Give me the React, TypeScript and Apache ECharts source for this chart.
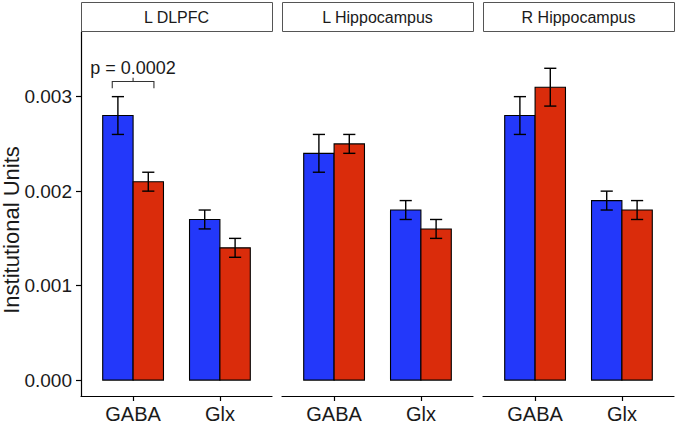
import React, { useEffect, useRef } from "react";
import * as echarts from "echarts";

const facets = ["L DLPFC", "L Hippocampus", "R Hippocampus"];
const categories = ["GABA", "Glx"];
const yTicks = [0, 0.001, 0.002, 0.003];
const yTitle = "Institutional Units";

// per facet: [GABA, Glx]
const blueMeans = [
  [0.0028, 0.0017],
  [0.0024, 0.0018],
  [0.0028, 0.0019],
];
const blueErr = [
  [0.0002, 0.0001],
  [0.0002, 0.0001],
  [0.0002, 0.0001],
];
const redMeans = [
  [0.0021, 0.0014],
  [0.0025, 0.0016],
  [0.0031, 0.0018],
];
const redErr = [
  [0.0001, 0.0001],
  [0.0001, 0.0001],
  [0.0002, 0.0001],
];

const pLabel = "p = 0.0002";
const bracketX = [0.76, 1.24];
const bracketY = [0.00309, 0.00316, 0.0032];
const pLabelY = 0.0033;

const BLUE = "#2338FA";
const RED = "#DA2C0B";
const FONT = "Liberation Sans, Arial, Helvetica, sans-serif";
const BAR_W = 0.35;
const CAP_HALF = 0.07;

const PANEL_LEFT = 81;
const PANEL_W = 191;
const PANEL_GAP = 10;
const PANEL_TOP = 32;
const PANEL_H = 366;

function barRender(color: string, side: number) {
  return (params: any, api: any) => {
    const c = api.value(0);
    const m = api.value(1);
    const e = api.value(2);
    const x0 = side < 0 ? c - BAR_W : c;
    const x1 = x0 + BAR_W;
    const xm = (x0 + x1) / 2;
    const pBase = api.coord([x0, 0]);
    const pTop = api.coord([x1, m]);
    const pHi = api.coord([xm, m + e]);
    const pLo = api.coord([xm, m - e]);
    const capL = api.coord([xm - CAP_HALF, m])[0];
    const capR = api.coord([xm + CAP_HALF, m])[0];
    const ls = { stroke: "#000", lineWidth: 1.4 };
    return {
      type: "group",
      children: [
        {
          type: "rect",
          shape: {
            x: pBase[0],
            y: pTop[1],
            width: pTop[0] - pBase[0],
            height: pBase[1] - pTop[1],
          },
          style: { fill: color, stroke: "#000", lineWidth: 1.1 },
        },
        { type: "line", shape: { x1: pHi[0], y1: pHi[1], x2: pLo[0], y2: pLo[1] }, style: ls },
        { type: "line", shape: { x1: capL, y1: pHi[1], x2: capR, y2: pHi[1] }, style: ls },
        { type: "line", shape: { x1: capL, y1: pLo[1], x2: capR, y2: pLo[1] }, style: ls },
      ],
    };
  };
}

export default function App() {
  const ref = useRef<HTMLDivElement>(null);
  useEffect(() => {
    if (!ref.current) return;
    const chart = echarts.init(ref.current, undefined, { renderer: "svg" });
    const grids: any[] = [];
    const xAxes: any[] = [];
    const yAxes: any[] = [];
    const series: any[] = [];
    const graphics: any[] = [];
    facets.forEach((f, i) => {
      const left = PANEL_LEFT + i * (PANEL_W + PANEL_GAP);
      grids.push({ left, top: PANEL_TOP, width: PANEL_W, height: PANEL_H, containLabel: false });
      xAxes.push({
        type: "value",
        gridIndex: i,
        min: 0.4,
        max: 2.6,
        splitLine: { show: false },
        axisLine: { show: true, onZero: false, lineStyle: { color: "#000", width: 1.2 } },
        axisTick: { show: true, customValues: [1, 2], length: 5, lineStyle: { color: "#000", width: 1.2 } },
        axisLabel: {
          show: true,
          customValues: [1, 2],
          formatter: (v: number) => categories[Math.round(v) - 1],
          color: "#1a1a1a",
          fontSize: 20,
          fontFamily: FONT,
          margin: 8,
        },
      });
      yAxes.push({
        type: "value",
        gridIndex: i,
        min: -0.000168,
        max: 0.003684,
        show: i === 0,
        splitLine: { show: false },
        axisLine: { show: i === 0, onZero: false, lineStyle: { color: "#000", width: 1.2 } },
        axisTick: { show: i === 0, customValues: yTicks, length: 5, lineStyle: { color: "#000", width: 1.2 } },
        axisLabel: {
          show: i === 0,
          customValues: yTicks,
          formatter: (v: number) => v.toFixed(3),
          color: "#1a1a1a",
          fontSize: 19,
          fontFamily: FONT,
          margin: 9,
        },
      });
      series.push({
        type: "custom",
        xAxisIndex: i,
        yAxisIndex: i,
        renderItem: barRender(BLUE, -1),
        encode: { x: 0, y: 1 },
        data: categories.map((_, j) => [j + 1, blueMeans[i][j], blueErr[i][j]]),
      });
      series.push({
        type: "custom",
        xAxisIndex: i,
        yAxisIndex: i,
        renderItem: barRender(RED, 1),
        encode: { x: 0, y: 1 },
        data: categories.map((_, j) => [j + 1, redMeans[i][j], redErr[i][j]]),
      });
      graphics.push({
        type: "rect",
        shape: { x: left + 0.5, y: 2.5, width: PANEL_W, height: 29 },
        style: { fill: "#fff", stroke: "#555", lineWidth: 1 },
      });
      graphics.push({
        type: "text",
        x: left + PANEL_W / 2,
        y: 17,
        style: {
          text: f,
          fill: "#1a1a1a",
          font: `16px ${FONT}`,
          align: "center",
          verticalAlign: "middle",
        },
      });
    });
    graphics.push({
      type: "text",
      x: 11,
      y: 230,
      rotation: Math.PI / 2,
      style: {
        text: yTitle,
        fill: "#1a1a1a",
        font: `22px ${FONT}`,
        align: "center",
        verticalAlign: "middle",
      },
    });
    series.push({
      type: "custom",
      xAxisIndex: 0,
      yAxisIndex: 0,
      encode: { x: 0, y: 2 },
      data: [[bracketX[0], bracketX[1], bracketY[1]]],
      renderItem: (params: any, api: any) => {
        const xa = bracketX[0], xb = bracketX[1];
        const xm = (xa + xb) / 2;
        const pa = api.coord([xa, bracketY[0]]);
        const pa2 = api.coord([xa, bracketY[1]]);
        const pb = api.coord([xb, bracketY[0]]);
        const pb2 = api.coord([xb, bracketY[1]]);
        const pm = api.coord([xm, bracketY[1]]);
        const pm2 = api.coord([xm, bracketY[2]]);
        const pt = api.coord([1, pLabelY]);
        const ls = { stroke: "#333", lineWidth: 1.1, fill: null };
        return {
          type: "group",
          children: [
            { type: "polyline", shape: { points: [pa, pa2, pb2, pb] }, style: ls },
            { type: "line", shape: { x1: pm[0], y1: pm[1], x2: pm2[0], y2: pm2[1] }, style: ls },
            {
              type: "text",
              x: pt[0],
              y: pt[1],
              style: {
                text: pLabel,
                fill: "#1a1a1a",
                font: `18px ${FONT}`,
                align: "center",
                verticalAlign: "middle",
              },
            },
          ],
        };
      },
    });
    chart.setOption({
      animation: false,
      backgroundColor: "#fff",
      grid: grids,
      xAxis: xAxes,
      yAxis: yAxes,
      series,
      graphic: graphics,
    });
    return () => chart.dispose();
  }, []);
  return (
    <div
      ref={ref}
      style={{ position: "fixed", left: 0, top: 0, width: 677, height: 424 }}
    />
  );
}
